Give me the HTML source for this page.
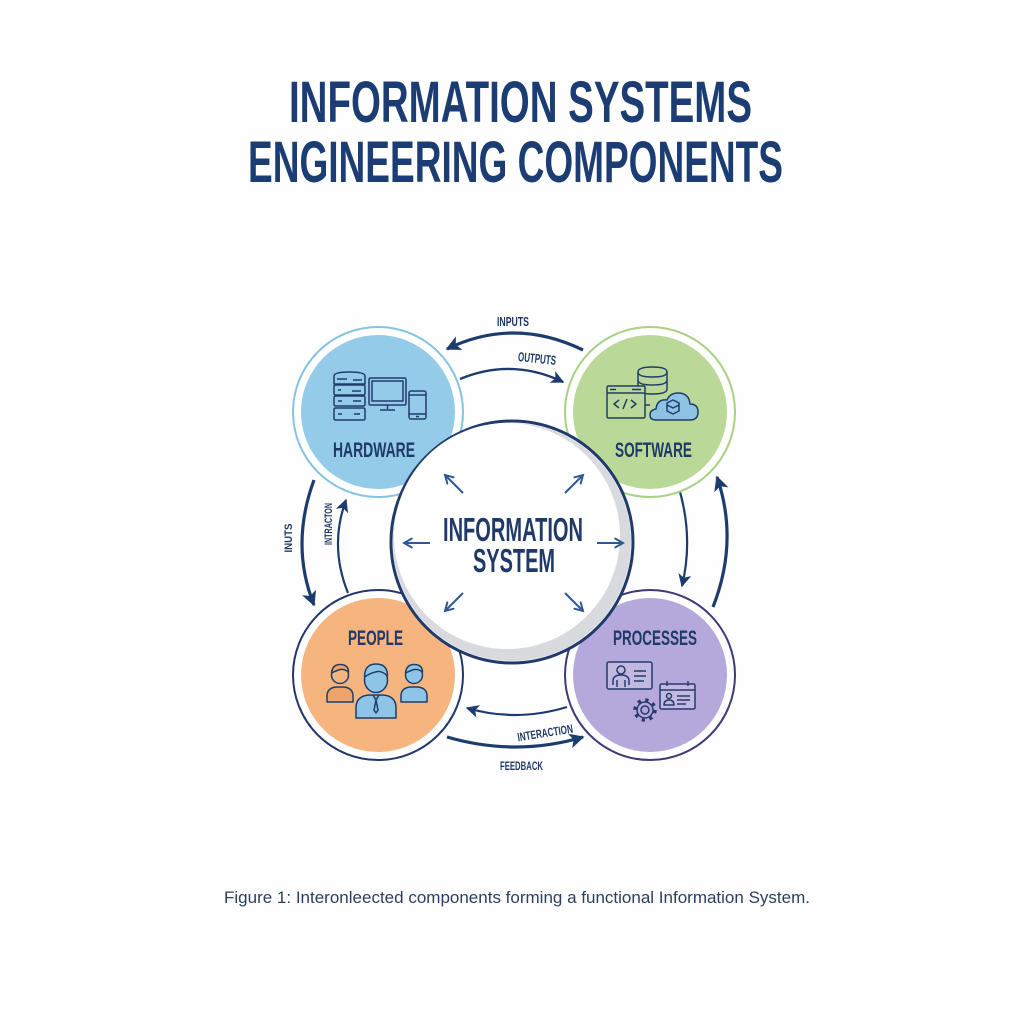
<!DOCTYPE html>
<html><head><meta charset="utf-8"><style>
html,body{margin:0;padding:0;background:#fefefe;}
svg{display:block;}
text{font-family:"Liberation Sans Narrow","Liberation Sans",sans-serif;font-weight:bold;}
</style></head><body>
<svg width="1024" height="1024" viewBox="0 0 1024 1024" xmlns="http://www.w3.org/2000/svg">
<defs>
 <marker id="ah" viewBox="0 0 10 10" refX="9" refY="5" markerWidth="15" markerHeight="15" markerUnits="userSpaceOnUse" orient="auto"><path d="M0,0 L10,5 L0,10 L2.5,5 z" fill="#1d3c6e"/></marker>
 <marker id="ah2" viewBox="0 0 10 10" refX="9" refY="5" markerWidth="13" markerHeight="13" markerUnits="userSpaceOnUse" orient="auto"><path d="M0,0 L10,5 L0,10 L2.5,5 z" fill="#1d3c6e"/></marker>
 <marker id="ch" viewBox="0 0 10 10" refX="8" refY="5" markerWidth="11" markerHeight="11" markerUnits="userSpaceOnUse" orient="auto"><path d="M1,1 L8,5 L1,9" fill="none" stroke="#2d5a93" stroke-width="1.8" stroke-linecap="round"/></marker>
</defs>
<rect width="1024" height="1024" fill="#fefefe"/>

<!-- Title -->
<text x="289" y="122" font-size="58" fill="#1b3d74" textLength="463" lengthAdjust="spacingAndGlyphs">INFORMATION SYSTEMS</text>
<text x="248" y="182" font-size="58" fill="#1b3d74" textLength="535" lengthAdjust="spacingAndGlyphs">ENGINEERING COMPONENTS</text>

<!-- Top arrows -->
<path d="M583,350 Q514,316.5 447,349" fill="none" stroke="#1d3c6e" stroke-width="3.2" marker-end="url(#ah)"/>
<text x="497" y="326" font-size="13" fill="#1f3a68" textLength="32" lengthAdjust="spacingAndGlyphs">INPUTS</text>
<path d="M460,379 Q512,357.5 563,382" fill="none" stroke="#1d3c6e" stroke-width="2.4" marker-end="url(#ah2)"/>
<text x="518" y="363" font-size="13" fill="#1f3a68" textLength="38" lengthAdjust="spacingAndGlyphs" transform="rotate(6 537 359)">OUTPUTS</text>

<!-- Left arrows -->
<path d="M314,480 Q290,545 314,605" fill="none" stroke="#1d3c6e" stroke-width="3.2" marker-end="url(#ah)"/>
<text x="288" y="542" font-size="11" fill="#1f3a68" textLength="29" lengthAdjust="spacingAndGlyphs" text-anchor="middle" transform="rotate(-90 288 538)">INUTS</text>
<path d="M348,593 Q329,546 346,500" fill="none" stroke="#1d3c6e" stroke-width="2.2" marker-end="url(#ah2)"/>
<text x="328" y="528" font-size="11" fill="#1f3a68" textLength="42" lengthAdjust="spacingAndGlyphs" text-anchor="middle" transform="rotate(-90 328 524)">INTRACTON</text>

<!-- Right arrows -->
<path d="M678,485 Q694,536 682,586" fill="none" stroke="#1d3c6e" stroke-width="2.2" marker-end="url(#ah2)"/>
<path d="M713,607 Q739,541 717,477" fill="none" stroke="#1d3c6e" stroke-width="3.2" marker-end="url(#ah)"/>

<!-- Bottom arrows -->
<path d="M567,707 Q516,722.5 467,708" fill="none" stroke="#1d3c6e" stroke-width="2.2" marker-end="url(#ah2)"/>
<path d="M447,737 Q516,757 583,737" fill="none" stroke="#1d3c6e" stroke-width="3.2" marker-end="url(#ah)"/>
<text x="517" y="737" font-size="12" fill="#1f3a68" textLength="56" lengthAdjust="spacingAndGlyphs" transform="rotate(-9 545 732)">INTERACTION</text>
<text x="500" y="770" font-size="12" fill="#1f3a68" textLength="43" lengthAdjust="spacingAndGlyphs">FEEDBACK</text>

<!-- Hardware -->
<circle cx="378" cy="412" r="85" fill="#fff" stroke="#86c3e2" stroke-width="2"/>
<circle cx="378" cy="412" r="77" fill="#93cbe9"/>
<g fill="none" stroke="#1f3d6b" stroke-width="1.5" stroke-linejoin="round">
 <path d="M334,376 q0,-4 15.5,-4 q15.5,0 15.5,4 v8 h-31 z"/>
 <rect x="334" y="385" width="31" height="10" rx="1.5"/>
 <rect x="334" y="396" width="31" height="10" rx="1.5"/>
 <rect x="334" y="408" width="31" height="12" rx="1.5"/>
 <path d="M337,379 h10 M353,380 h9 M338,390 h3 M352,391 h9 M338,401 h4 M353,401 h8 M338,414 h4 M354,414 h6"/>
 <rect x="369" y="378" width="37" height="27" rx="1.5"/>
 <rect x="372" y="381" width="31" height="20"/>
 <path d="M387.5,405 v4 M380,410 h15"/>
 <rect x="409" y="391" width="17" height="28" rx="2"/>
 <path d="M409,395 h17 M409,414 h17 M416,416.5 h3"/>
</g>
<text x="333" y="457" font-size="21" fill="#1f3a68" textLength="82" lengthAdjust="spacingAndGlyphs">HARDWARE</text>

<!-- Software -->
<circle cx="650" cy="412" r="85" fill="#fff" stroke="#a9d083" stroke-width="2"/>
<circle cx="650" cy="412" r="77" fill="#bad998"/>
<g fill="none" stroke="#1f3d6b" stroke-width="1.5" stroke-linejoin="round">
 <path d="M638,372 q0,-5 14.5,-5 q14.5,0 14.5,5 v17 q0,5 -14.5,5 q-14.5,0 -14.5,-5 z" fill="#bad998"/>
 <path d="M638,372 q0,5 14.5,5 q14.5,0 14.5,-5 M638,380 q0,5 14.5,5 q14.5,0 14.5,-5"/>
 <rect x="607" y="386" width="38" height="32" rx="1.5" fill="#bad998"/>
 <path d="M607,393 h38 M610,389.5 h6 M632,389.5 h9"/>
 <path d="M619,400 l-5,4 l5,4 M631,400 l5,4 l-5,4 M627,399 l-4,10"/>
 <path d="M645,405 h5"/>
 <path d="M656,420 h34 q8,0 8,-8 q0,-8 -8,-8 q-1,-11 -12,-11 q-8,0 -11,7 q-10,-1 -11,9 q-6,1 -6,6 q0,5 6,5 z" fill="#8ec3e4"/>
 <path d="M673,400 l6,3 v8 l-6,3 l-6,-3 v-8 z M667,405 l6,3 l6,-3"/>
</g>
<text x="615" y="457" font-size="21" fill="#1f3a68" textLength="77" lengthAdjust="spacingAndGlyphs">SOFTWARE</text>

<!-- People -->
<circle cx="378" cy="675" r="85" fill="#fff" stroke="#22366a" stroke-width="2"/>
<circle cx="378" cy="675" r="77" fill="#f6b47f"/>
<text x="348" y="645" font-size="21" fill="#1f3a68" textLength="55" lengthAdjust="spacingAndGlyphs">PEOPLE</text>
<g stroke="#1f3d6b" stroke-width="1.5" stroke-linejoin="round">
 <path d="M327,702 v-6 q0,-8 9,-9 h8 q9,1 9,9 v6 z" fill="#eea46b"/>
 <circle cx="340" cy="675" r="8.5" fill="#f6b47f"/>
 <path d="M331.5,673 q1,-8.5 8.5,-8.5 q8.5,0 8.5,7.5 q-5,-4 -10,-2 q-3,1 -7,3" fill="#eea46b"/>
 <path d="M401,702 v-6 q0,-8 9,-9 h8 q9,1 9,9 v6 z" fill="#8ec5e6"/>
 <circle cx="414" cy="675" r="8.5" fill="#8ec5e6"/>
 <path d="M405.5,673 q1,-8.5 8.5,-8.5 q8.5,0 8.5,7.5 q-5,-4 -10,-2 q-3,1 -7,3" fill="#8ec5e6"/>
 <path d="M356,718 v-10 q0,-12 13,-13 h14 q13,1 13,13 v10 z" fill="#8ec5e6"/>
 <path d="M373,695 l3,5 l3,-5 M376,700 l-2,10 l2,3 l2,-3 l-2,-10" fill="none"/>
 <ellipse cx="376" cy="680" rx="11.5" ry="12.5" fill="#8ec5e6"/>
 <path d="M364.5,677 q0,-13 11.5,-13 q11.5,0 11.5,12 q-6,-6 -12,-4 q-5,1 -11,5" fill="#8ec5e6"/>
</g>

<!-- Processes -->
<circle cx="650" cy="675" r="85" fill="#fff" stroke="#3d3a78" stroke-width="2"/>
<circle cx="650" cy="675" r="77" fill="#b4a9da"/>
<text x="613" y="645" font-size="21" fill="#1f3a68" textLength="84" lengthAdjust="spacingAndGlyphs">PROCESSES</text>
<g fill="none" stroke="#2a3a6b" stroke-width="1.5" stroke-linejoin="round">
 <rect x="607" y="662" width="45" height="27" rx="2" fill="#c2b9e2"/>
 <circle cx="621" cy="670" r="4"/>
 <path d="M613,685 v-4 q0,-6 8,-6 q8,0 8,6 v4 M617,680 v7 M625,680 v7"/>
 <path d="M634,671 h12 M634,676 h12 M634,681 h10"/>
 <rect x="660" y="684" width="35" height="25" rx="1.5" fill="#c2b9e2"/>
 <path d="M660,690 h35 M667,681 v5 M688,681 v5"/>
 <circle cx="669" cy="696" r="2.5"/>
 <path d="M664,705 q0,-5 5,-5 q5,0 5,5 z M677,696 h13 M677,700 h13 M677,704 h9"/>
 <circle cx="645" cy="710" r="4"/>
 <circle cx="645" cy="710" r="8"/>
 <circle cx="645" cy="710" r="10" stroke-width="3.5" stroke-dasharray="3.2 4.65"/>
</g>

<!-- Central circle -->
<circle cx="512" cy="542" r="121" fill="#fff" stroke="#1f3a6b" stroke-width="3"/>
<circle cx="512" cy="542" r="119" fill="#d8dadd"/>
<circle cx="507" cy="536" r="113" fill="#fff"/>
<g fill="none" stroke="#2d5a93" stroke-width="2" marker-end="url(#ch)">
 <line x1="463" y1="493" x2="445" y2="475"/>
 <line x1="565" y1="493" x2="583" y2="475"/>
 <line x1="430" y1="543" x2="404" y2="543"/>
 <line x1="597" y1="543" x2="623" y2="543"/>
 <line x1="463" y1="593" x2="445" y2="611"/>
 <line x1="565" y1="593" x2="583" y2="611"/>
</g>
<text x="443" y="541" font-size="33" fill="#1f3a68" textLength="140" lengthAdjust="spacingAndGlyphs">INFORMATION</text>
<text x="473" y="572" font-size="33" fill="#1f3a68" textLength="82" lengthAdjust="spacingAndGlyphs">SYSTEM</text>

<!-- Caption -->
<text x="224" y="903" font-size="16.5" fill="#2b3f5e" style="font-family:'Liberation Sans',sans-serif;font-weight:normal" textLength="586" lengthAdjust="spacingAndGlyphs">Figure 1: Interonleected components forming a functional Information System.</text>
</svg>
</body></html>
